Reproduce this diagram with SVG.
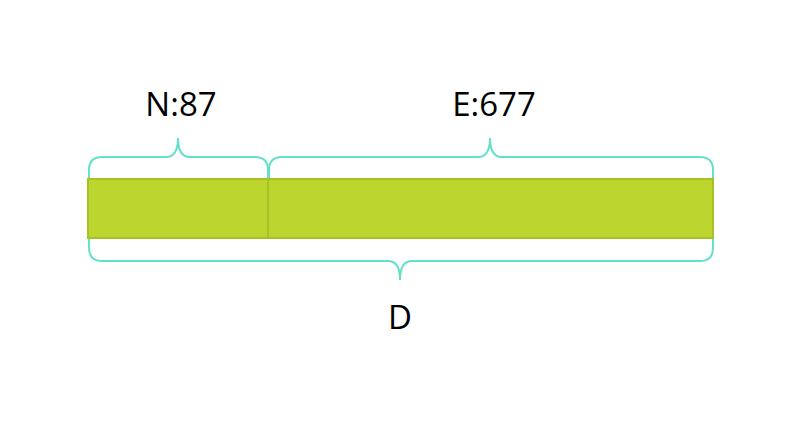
<svg xmlns="http://www.w3.org/2000/svg" width="800" height="432" viewBox="0 0 800 432">
<style>
.bar{fill:#bdd62f;stroke:#a8c226;stroke-width:2}
.brace{fill:none;stroke:#62e0c9;stroke-width:2}
.lbl{font-family:"Open Sans","Noto Sans",sans-serif;font-size:33px;fill:#000;text-anchor:middle}
</style>
<rect width="800" height="432" fill="#fff"/>
<g id="bar">
<rect class="bar" x="88" y="179" width="180" height="59"/>
<rect class="bar" x="268" y="179" width="445" height="59"/>
</g>
<g id="connectors">
<path class="brace" d="M89,178 V170 Q89,157 102,157 H166 Q178,157 178,138 Q178,157 190,157 H255 Q268,157 268,170 V178"/>
<path class="brace" d="M269,178 V170 Q269,157 282,157 H478 Q490,157 490,138 Q490,157 502,157 H700 Q713,157 713,170 V178"/>
<path class="brace" d="M89,239 V248 Q89,261 102,261 H388 Q400,261 400,280 Q400,261 412,261 H700 Q713,261 713,248 V239"/>
</g>
<g id="labelN"><text class="lbl" x="181" y="116">N:87</text></g>
<g id="labelE"><text class="lbl" x="494" y="116">E:677</text></g>
<g id="labelD"><text class="lbl" x="400" y="329">D</text></g>
</svg>
